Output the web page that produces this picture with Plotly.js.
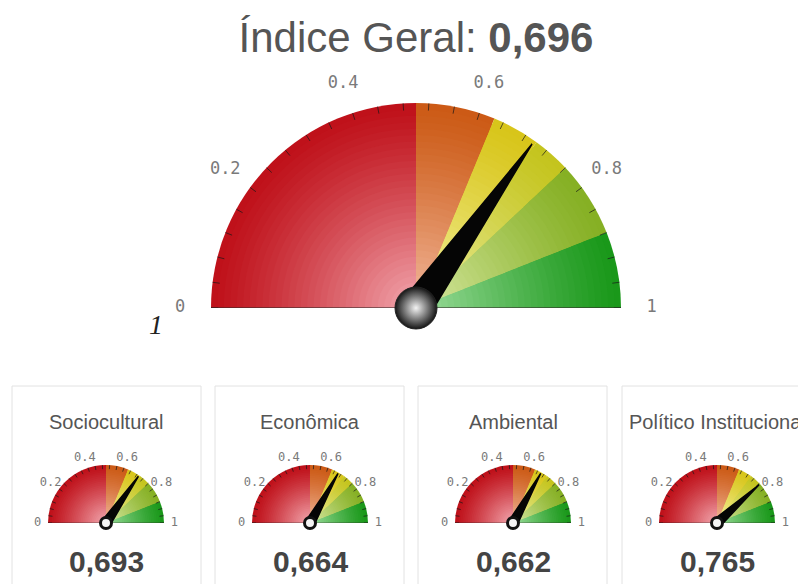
<!DOCTYPE html>
<html>
<head>
<meta charset="utf-8">
<script src="https://cdn.plot.ly/plotly-3.0.1.min.js"></script>
<style>html,body{margin:0;padding:0;background:#fff;}#chart{width:798px;height:584px;}</style>
</head>
<body>
<div id="chart"></div>
<script>
// ---- data ----
const mainTitle = 'Índice Geral: ';
const mainValue = 0.696;
const cardNames = ['Sociocultural', 'Econômica', 'Ambiental', 'Político Institucional'];
const cardValues = [0.693, 0.664, 0.662, 0.765];
const bandEdges = [0, 0.5, 0.625, 0.70, 0.76, 0.88, 1];
const tickLabelVals = [0, 0.2, 0.4, 0.6, 0.8, 1];
const tickLabels = ['0', '0.2', '0.4', '0.6', '0.8', '1'];
const minorStep = 0.04;

// ---- styles ----
const bandOuter = ['#bf111a', '#cc5a16', '#d8c51a', '#c4c41e', '#86b024', '#1a981a'];
const bandInner = ['#f2a6ae', '#f2b89c', '#f4f3a4', '#eef0a4', '#d6e8a2', '#9cdc9c'];
const W = 798, H = 584;

function hex2rgb(h){h=h.replace('#','');return [0,2,4].map(i=>parseInt(h.substr(i,2),16));}
function mix(a,b,t){const A=hex2rgb(a),B=hex2rgb(b);return 'rgb('+A.map((v,i)=>Math.round(v+(B[i]-v)*t)).join(',')+')';}

const toDeg = v => v * 180;
const traces = [];
const layout = {
  width: W, height: H, margin: {l:0, r:0, t:0, b:0},
  paper_bgcolor: '#fff', showlegend: false,
  font: {family: 'Liberation Sans, Arial, sans-serif', color: '#555'},
  title: {text: mainTitle + '<b>' + mainValue.toFixed(3).replace('.', ',') + '</b>',
          font: {size: 42, color: '#555', family: 'Liberation Sans, Arial, sans-serif'},
          x: 416/W, xanchor: 'center', y: 1 - 37/H, yanchor: 'middle', yref: 'container', xref: 'container'},
  shapes: [], annotations: []
};

const minorTicks = [];
for (let v = 0; v <= 1 + 1e-9; v += minorStep) minorTicks.push(Math.round(v*1000)/1000);

function addGauge(id, value, cx, cy, R, opts) {
  const L = opts.rangeMax;
  const bandCenters = [], bandWidths = [];
  for (let i = 0; i < bandEdges.length - 1; i++) {
    bandCenters.push(toDeg((bandEdges[i] + bandEdges[i+1]) / 2));
    bandWidths.push(toDeg(bandEdges[i+1] - bandEdges[i]));
  }
  const N = 32;
  for (let k = 0; k < N; k++) {
    const t = Math.pow(k / (N - 1), 1.2);
    traces.push({
      type: 'barpolar', subplot: id,
      theta: bandCenters, width: bandWidths,
      r: bandCenters.map(() => 1 - k / N),
      marker: {color: bandOuter.map((c, i) => mix(c, bandInner[i], t)), line: {width: 0}},
      hoverinfo: 'skip'
    });
  }
  // baseline shadow
  traces.push({
    type: 'scatterpolar', subplot: id, mode: 'lines', cliponaxis: false,
    r: [1, 0, 1], theta: [0, 0, 180], line: {color: 'rgba(50,40,40,0.55)', width: opts.baseW}, hoverinfo: 'skip'
  });
  // tick marks along the rim
  const tr = [], tt = [];
  minorTicks.forEach(v => { tr.push(1 - opts.tickLen, 1, null); tt.push(toDeg(v), toDeg(v), null); });
  traces.push({
    type: 'scatterpolar', subplot: id, mode: 'lines', cliponaxis: false,
    r: tr, theta: tt, line: {color: 'rgba(25,25,25,0.7)', width: 1}, hoverinfo: 'skip'
  });
  // tick labels
  traces.push({
    type: 'scatterpolar', subplot: id, mode: 'text', cliponaxis: false,
    r: tickLabelVals.map(() => opts.labelR), theta: tickLabelVals.map(toDeg),
    text: tickLabels, textposition: 'middle center',
    textfont: {family: 'DejaVu Sans Mono, Liberation Mono, monospace', size: opts.labelSize, color: '#7a7a7a'},
    hoverinfo: 'skip'
  });
  // needle
  const th = toDeg(value);
  traces.push({
    type: 'scatterpolar', subplot: id, mode: 'lines', fill: 'toself', cliponaxis: false,
    r: [opts.needleBase, 0.98, opts.needleBase, opts.needleBase],
    theta: [th - 90, th, th + 90, th - 90],
    fillcolor: '#050505', line: {color: '#050505', width: 1.5}, hoverinfo: 'skip'
  });
  // hub
  traces.push({
    type: 'scatterpolar', subplot: id, mode: 'markers', cliponaxis: false,
    r: [0], theta: [0],
    marker: opts.hub, hoverinfo: 'skip'
  });
  const RD = R * L;
  layout[id] = {
    domain: {x: [(cx - RD) / W, (cx + RD) / W], y: [1 - cy / H, 1 - (cy - RD) / H]},
    sector: [0, 180], hole: 0, bgcolor: 'rgba(0,0,0,0)', barmode: 'overlay',
    radialaxis: {visible: false, range: [0, L]},
    angularaxis: {rotation: 180, direction: 'clockwise', ticks: '', showticklabels: false,
                  showgrid: false, showline: false}
  };
}

addGauge('polar', mainValue, 416, 308, 205, {
  rangeMax: 1.22, labelR: 1.15, labelSize: 17, needleBase: 0.075, tickLen: 0.035, baseW: 2,
  hub: {size: 42, color: '#151515', gradient: {type: 'radial', color: '#f4f4f4'}, line: {color: '#222', width: 1}}
});

const cardCenters = [106, 310, 513, 717];
const cardLeft = [12, 215, 418, 622];
cardNames.forEach((name, i) => {
  const id = 'polar' + (i + 2);
  addGauge(id, cardValues[i], cardCenters[i], 523, 58, {
    rangeMax: 1.24, labelR: 1.18, labelSize: 12, needleBase: 0.08, tickLen: 0.07, baseW: 1,
    hub: {size: 11, color: '#f4f4f4', line: {color: '#111', width: 3}}
  });
  layout.shapes.push({type: 'rect', xref: 'paper', yref: 'paper', layer: 'below',
    x0: cardLeft[i] / W, x1: (cardLeft[i] + 189) / W, y0: -0.05, y1: 1 - 386 / H,
    line: {color: '#e2e2e2', width: 1}, fillcolor: 'rgba(0,0,0,0)'});
  layout.annotations.push({xref: 'paper', yref: 'paper', x: cardCenters[i] / W, y: 1 - 422 / H,
    text: name, showarrow: false, xanchor: 'center', yanchor: 'middle',
    font: {size: 20, color: '#555', family: 'Liberation Sans, Arial, sans-serif'}});
  layout.annotations.push({xref: 'paper', yref: 'paper', x: cardCenters[i] / W, y: 1 - 561 / H,
    text: '<b>' + cardValues[i].toFixed(3).replace('.', ',') + '</b>', showarrow: false,
    xanchor: 'center', yanchor: 'middle',
    font: {size: 30, color: '#444', family: 'Liberation Sans, Arial, sans-serif'}});
});

layout.annotations.push({xref: 'paper', yref: 'paper', x: 156 / W, y: 1 - 325 / H,
  text: '<i>1</i>', showarrow: false, xanchor: 'center', yanchor: 'middle',
  font: {size: 28, color: '#222', family: 'Liberation Serif, Times New Roman, serif'}});

Plotly.newPlot('chart', traces, layout, {displayModeBar: false, staticPlot: true});
</script>
</body>
</html>
